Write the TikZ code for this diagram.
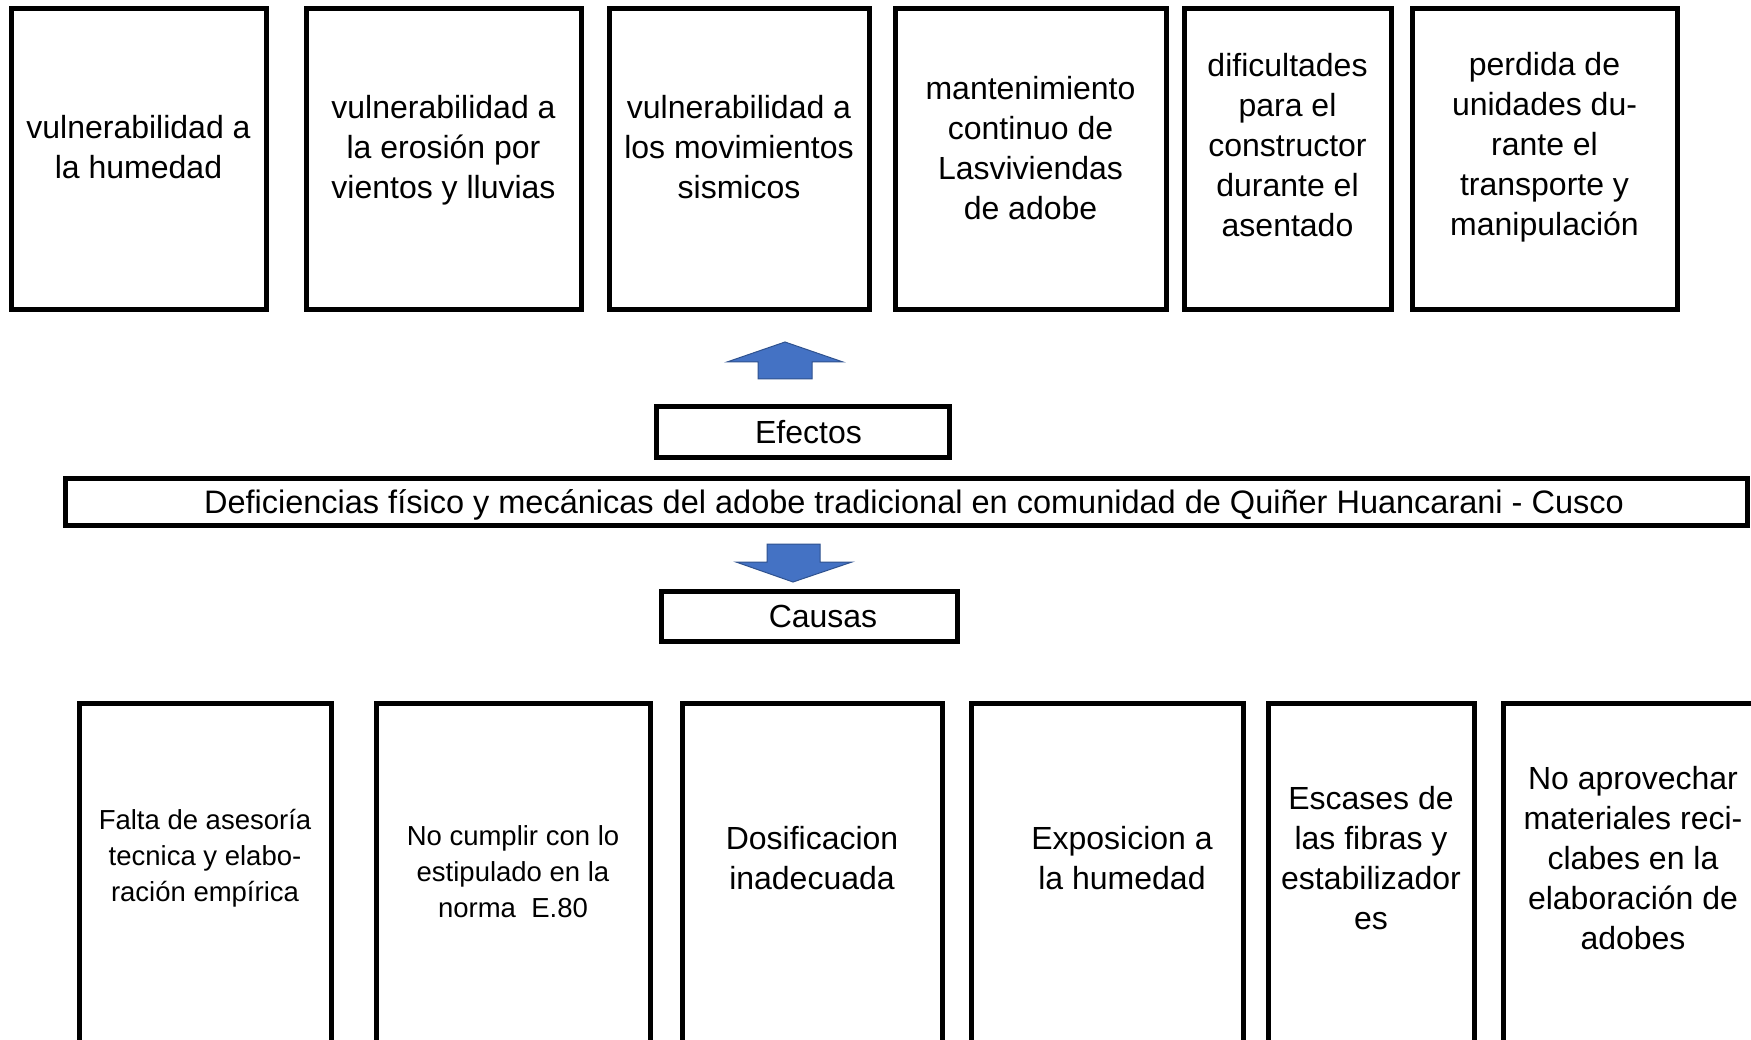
\documentclass[tikz,border=0pt]{standalone}
\usepackage{fontspec}
\setmainfont{Liberation Sans}
\definecolor{flecha}{HTML}{4472C4}
\definecolor{flechaborde}{HTML}{2F528F}
\tikzset{
	caja/.style={draw,line width=5pt,rectangle,inner sep=0pt},
	texto/.style={align=center,font=\fontsize{32}{40}\selectfont},
	textochico/.style={align=center,font=\fontsize{27.5}{36}\selectfont},
	bloque/.style={fill=flecha,draw=flechaborde,line width=1pt,line join=miter}
}
\begin{document}
\begin{tikzpicture}[x=1pt,y=-1pt]
	\clip (0,0) rectangle (1751,1040);
	\fill[white] (0,0) rectangle (1751,1040);
	% efectos
	\node[caja,minimum width=255,minimum height=301] (e1) at (138.5,159.5) {};
	\node[caja,minimum width=275,minimum height=301] (e2) at (443.5,159.5) {};
	\node[caja,minimum width=260,minimum height=301] (e3) at (739,159.5) {};
	\node[caja,minimum width=271,minimum height=301] (e4) at (1030.5,159.5) {};
	\node[caja,minimum width=207,minimum height=301] (e5) at (1287.5,159.5) {};
	\node[caja,minimum width=265,minimum height=301] (e6) at (1544.5,159.5) {};
	\node[texto] (e1t) at ([yshift=12pt]e1.center) {vulnerabilidad a\\la humedad};
	\node[texto] (e2t) at ([yshift=9pt]e2.center) {vulnerabilidad a\\la erosión por\\vientos y lluvias};
	\node[texto] (e3t) at ([yshift=12pt]e3.center) {vulnerabilidad a\\los movimientos\\sismicos};
	\node[texto] (e4t) at ([yshift=11pt]e4.center) {mantenimiento\\continuo de\\Lasviviendas\\de adobe};
	\node[texto] (e5t) at ([yshift=14pt]e5.center) {dificultades\\para el\\constructor\\durante el\\asentado};
	\node[texto] (e6t) at ([yshift=12pt]e6.center) {perdida de\\unidades du-\\rante el\\transporte y\\manipulación};
	% flecha arriba
	\draw[bloque] (785,342)--(843,362)--(812,362)--(812,379)--(758,379)--(758,362)--(727,362)--cycle;
	\node[caja,minimum width=293,minimum height=50] (efectos) at (802.5,432) {};
	\node[texto] (efectost) at ([xshift=6pt]efectos.center) {Efectos};
	% problema central
	\node[caja,minimum width=1682,minimum height=47] (problema) at (906,502) {};
	\node[texto,font=\fontsize{32.5}{40}\selectfont] (problemat) at ([xshift=8pt,yshift=-3pt]problema.center) {Deficiencias físico y mecánicas del adobe tradicional en comunidad de Quiñer Huancarani - Cusco};
	% flecha abajo
	\draw[bloque] (767,544)--(820,544)--(820,562)--(852,562)--(793,582)--(736,562)--(767,562)--cycle;
	\node[caja,minimum width=296,minimum height=50] (causas) at (809,616) {};
	\node[texto] (causast) at ([xshift=14pt]causas.center) {Causas};
	% causas
	\node[caja,minimum width=252,minimum height=397] (c1) at (205,901.5) {};
	\node[caja,minimum width=274,minimum height=397] (c2) at (513,901.5) {};
	\node[caja,minimum width=260,minimum height=397] (c3) at (812,901.5) {};
	\node[caja,minimum width=272,minimum height=397] (c4) at (1107,901.5) {};
	\node[caja,minimum width=206,minimum height=397] (c5) at (1371,901.5) {};
	\node[caja,minimum width=257,minimum height=397] (c6) at (1631.5,901.5) {};
	\node[textochico] (c1t) at (205,858) {Falta de asesoría\\tecnica y elabo-\\ración empírica};
	\node[textochico] (c2t) at (513,872) {No cumplir con lo\\estipulado en la\\norma\ \ E.80};
	\node[texto] (c3t) at (812,858) {Dosificacion\\inadecuada};
	\node[texto] (c4t) at (1122,858) {Exposicion a\\la humedad};
	\node[texto] (c5t) at (1371,858) {Escases de\\las fibras y\\estabilizador\\es};
	\node[texto] (c6t) at (1633,858) {No aprovechar\\materiales reci-\\clabes en la\\elaboración de\\adobes};
\end{tikzpicture}
\end{document}
